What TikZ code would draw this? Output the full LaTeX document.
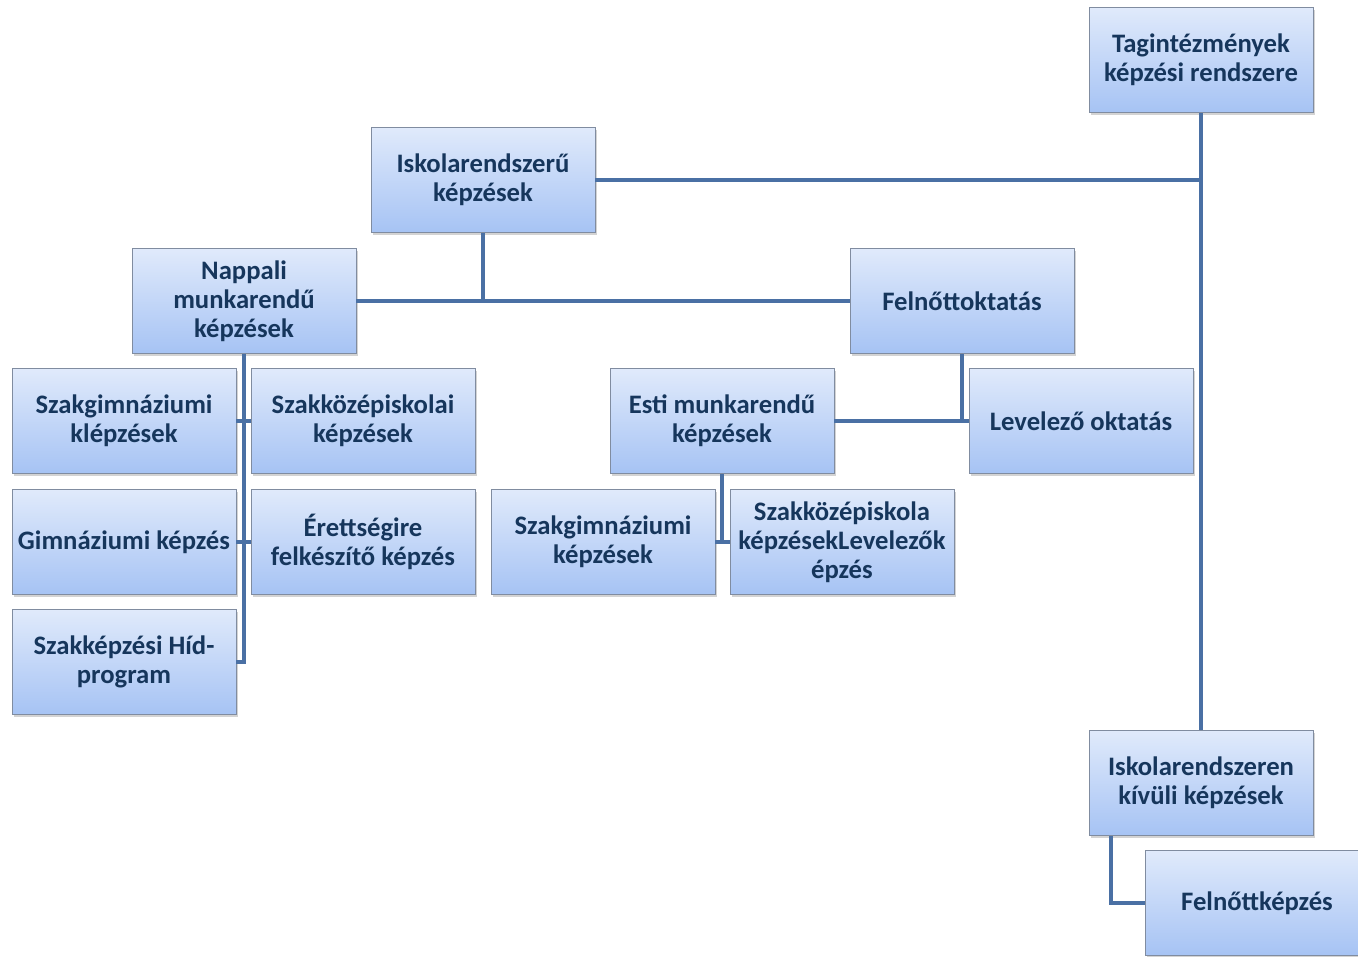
\documentclass[tikz,border=0pt]{standalone}
\usepackage{fontspec}
\setmainfont{Carlito}
\usetikzlibrary{shadows,positioning}
\definecolor{boxtop}{RGB}{224,234,251}
\definecolor{boxbot}{RGB}{166,195,244}
\definecolor{boxline}{RGB}{128,140,160}
\definecolor{boxtext}{RGB}{22,54,92}
\definecolor{linkcol}{RGB}{74,112,164}

\tikzset{
  unit/.style={rectangle,draw=boxline,line width=0.6pt,top color=boxtop,bottom color=boxbot,
    minimum width=168pt,minimum height=78.75pt,inner sep=1pt,align=center,
    text=boxtext,font=\fontsize{20}{21.75}\selectfont\bfseries,
    drop shadow={shadow xshift=1.5pt,shadow yshift=-2pt,opacity=0.35}},
  link/.style={draw=linkcol,line width=3pt}
}

\begin{document}
\begin{tikzpicture}[x=0.75pt,y=-0.75pt]
\useasboundingbox (0,0) rectangle (1358,956);

% upper levels
\node [unit] (tag)  at (1201,60)  {Tagintézmények\\képzési rendszere};
\node [unit] (isk)  at (483,180)  {Iskolarendszerű\\képzések};
\node [unit] (napp) at (244,301)  {Nappali\\munkarendű\\képzések};
\node [unit] (feln) at (962,301)  {Felnőttoktatás};

% nappali
\node [unit] (szg1) at (124,421)  {Szakgimnáziumi\\klépzések};
\node [unit] (szk1) at (363,421)  {Szakközépiskolai\\képzések};
\node [unit] (gimn) at (124,542)  {Gimnáziumi képzés};
\node [unit] (eret) at (363,542)  {Érettségire\\felkészítő képzés};
\node [unit] (hid)  at (124,662)  {Szakképzési Híd-\\program};

% felnottoktatas
\node [unit] (esti) at (722,421)  {Esti munkarendű\\képzések};
\node [unit] (lev)  at (1081,421) {Levelező oktatás};
\node [unit] (szg2) at (603,542)  {Szakgimnáziumi\\képzések};
\node [unit] (szk2) at (842,542)  {Szakközépiskola\\képzésekLevelezők\\épzés};

% iskolarendszeren kivul
\node [unit] (kiv)  at (1201,783) {Iskolarendszeren\\kívüli képzések};
\node [unit] (fkep) at (1257,903) {Felnőttképzés};

\draw [link] (tag.south) -- (kiv.north);
\draw [link] (isk.east) -- (isk.east -| tag.south);
\draw [link] (isk.south) -- (isk.south |- napp.east);
\draw [link] (napp.east) -- (feln.west);
\draw [link] (napp.south) |- (hid.east);
\draw [link] (szg1.east) -- (szk1.west);
\draw [link] (gimn.east) -- (eret.west);
\draw [link] (feln.south) -- (feln.south |- lev.west);
\draw [link] (esti.east) -- (lev.west);
\draw [link] (esti.south) -- (esti.south |- szg2.east);
\draw [link] (szg2.east) -- (szk2.west);
\draw [link] ([xshift=16.5pt]kiv.south west) |- (fkep.west);

\end{tikzpicture}
\end{document}
